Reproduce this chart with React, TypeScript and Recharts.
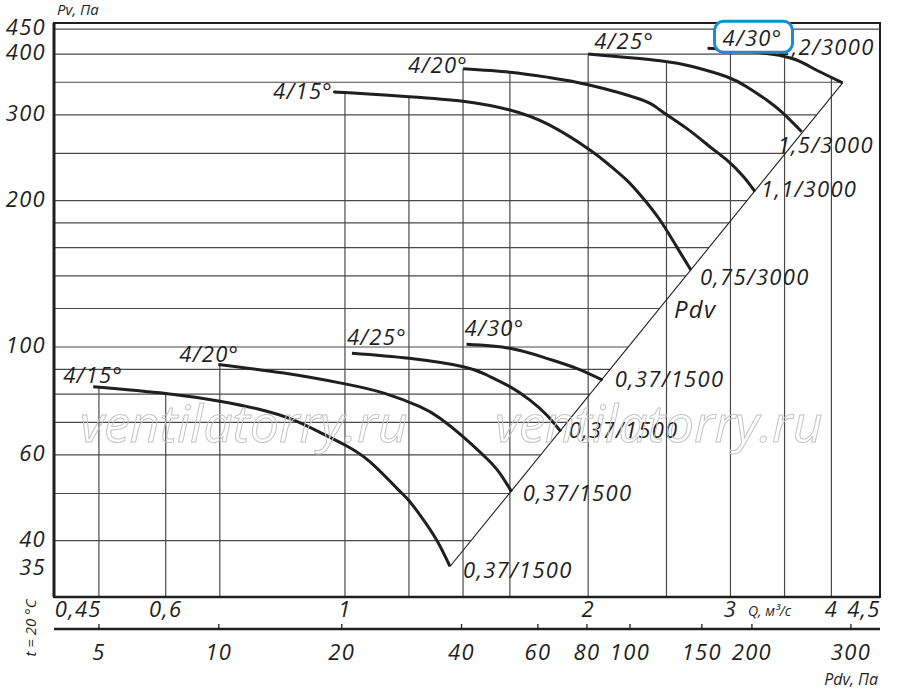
import React from "react";
import {
  LineChart,
  Line,
  XAxis,
  YAxis,
  ReferenceLine,
  ReferenceArea,
  ReferenceDot,
} from "recharts";

type Pt = { q: number; p: number };

const FONT = "'Open Sans', 'Noto Sans', sans-serif";
const INK = "#1f1f1f";
const GRID = "#4a4a4a";
const BIG = { fontFamily: FONT, fontStyle: "italic", fontSize: 22, letterSpacing: 1.3, fill: INK } as const;

// axis ranges: Q in m3/s, Pv in Pa (both log)
const qRange = [0.4364, 4.594];
const pRange = [30.64, 463.3];

const qTicks = [0.45, 0.6, 1, 2, 3, 4, 4.5];
const pTicks = [35, 40, 60, 100, 200, 300, 400, 450];

// dynamic pressure scale: labels and the Q they sit under
const pdvLabels = ["5", "10", "20", "40", "60", "80", "100", "150", "200", "300"];
const pdvAtQ = [0.496, 0.698, 0.991, 1.394, 1.733, 1.993, 2.253, 2.765, 3.189, 4.229];

const gridP = [40, 50, 60, 70, 80, 90, 100, 120, 140, 160, 180, 200, 250, 300, 350, 400, 450];
const gridQ = [0.496, 0.6, 0.7, 1, 1.2, 1.4, 1.6, 2, 2.5, 3, 3.5, 4];

// 3000 rpm
const hi15: Pt[] = [
  { q: 0.975, p: 334 }, { q: 1.0, p: 333.5 }, { q: 1.2, p: 327 }, { q: 1.4, p: 320 },
  { q: 1.6, p: 307 }, { q: 1.79, p: 286 }, { q: 2.01, p: 254 }, { q: 2.128, p: 236 },
  { q: 2.232, p: 220.3 }, { q: 2.34, p: 202 }, { q: 2.454, p: 182.4 }, { q: 2.573, p: 160.8 },
  { q: 2.68, p: 144 },
];
const hi20: Pt[] = [
  { q: 1.4, p: 373 }, { q: 1.6, p: 367 }, { q: 1.79, p: 358 }, { q: 2.0, p: 346 },
  { q: 2.32, p: 323 }, { q: 2.454, p: 307 }, { q: 2.648, p: 281.4 }, { q: 2.829, p: 258 },
  { q: 2.968, p: 242.3 }, { q: 3.112, p: 224 }, { q: 3.217, p: 208.5 },
];
const hi25: Pt[] = [
  { q: 2.0, p: 400 }, { q: 2.454, p: 387.5 }, { q: 2.698, p: 376.6 }, { q: 2.968, p: 359.3 },
  { q: 3.142, p: 342.7 }, { q: 3.326, p: 321.8 }, { q: 3.487, p: 302.1 }, { q: 3.675, p: 277 },
];
const hi30: Pt[] = [
  { q: 2.81, p: 411 }, { q: 3.0, p: 408 }, { q: 3.49, p: 396 }, { q: 3.76, p: 377 },
  { q: 4.13, p: 349 },
];

// 1500 rpm
const lo15: Pt[] = [
  { q: 0.488, p: 82.9 }, { q: 0.6, p: 80.3 }, { q: 0.7, p: 77.4 }, { q: 0.785, p: 74.4 },
  { q: 0.86, p: 71.0 }, { q: 0.931, p: 66.8 }, { q: 1.0, p: 62.9 }, { q: 1.074, p: 58.1 },
  { q: 1.159, p: 51.3 }, { q: 1.198, p: 48.5 }, { q: 1.238, p: 45.2 }, { q: 1.299, p: 40.1 },
  { q: 1.349, p: 35.4 },
];
const lo20: Pt[] = [
  { q: 0.697, p: 92.1 }, { q: 0.84, p: 88.4 }, { q: 1.0, p: 84.0 }, { q: 1.12, p: 80.3 },
  { q: 1.238, p: 75.4 }, { q: 1.311, p: 71.4 }, { q: 1.401, p: 65.4 }, { q: 1.498, p: 59.0 },
  { q: 1.555, p: 55.0 }, { q: 1.608, p: 50.4 },
];
const lo25: Pt[] = [
  { q: 1.02, p: 97.1 }, { q: 1.2, p: 94.8 }, { q: 1.401, p: 91.1 }, { q: 1.498, p: 87.6 },
  { q: 1.6, p: 82.9 }, { q: 1.694, p: 77.8 }, { q: 1.777, p: 72.5 }, { q: 1.85, p: 67.0 },
];
const lo30: Pt[] = [
  { q: 1.414, p: 101.3 }, { q: 1.6, p: 99.4 }, { q: 1.777, p: 94.8 }, { q: 1.935, p: 90.4 },
  { q: 2.084, p: 85.5 },
];

// Pdv line joining the curve ends
const pdvLine: Pt[] = [
  { q: 1.349, p: 35.4 },
  { q: 4.13, p: 349 },
];

const angles = ["4/15°", "4/20°", "4/25°", "4/30°"];
const motorsHi = ["0,75/3000", "1,1/3000", "1,5/3000", "2,2/3000"];
const motorLo = "0,37/1500";

type Off = { dx: number; dy: number; anchor: "start" | "middle" | "end"; boxed?: boolean };

const curves: { key: string; data: Pt[]; angle: string; motor: string; a: Off; m: Off }[] = [
  { key: "hi15", data: hi15, angle: angles[0], motor: motorsHi[0], a: { dx: -3, dy: 7, anchor: "end" }, m: { dx: 9, dy: 15, anchor: "start" } },
  { key: "hi20", data: hi20, angle: angles[1], motor: motorsHi[1], a: { dx: 5, dy: 4, anchor: "end" }, m: { dx: 6, dy: 5, anchor: "start" } },
  { key: "hi25", data: hi25, angle: angles[2], motor: motorsHi[2], a: { dx: 6, dy: -5, anchor: "start" }, m: { dx: -24, dy: 21, anchor: "start" } },
  { key: "hi30", data: hi30, angle: angles[3], motor: motorsHi[3], a: { dx: 15, dy: -2, anchor: "start", boxed: true }, m: { dx: 32, dy: -28, anchor: "end" } },
  { key: "lo15", data: lo15, angle: angles[0], motor: motorLo, a: { dx: 0, dy: -4, anchor: "middle" }, m: { dx: 13, dy: 12, anchor: "start" } },
  { key: "lo20", data: lo20, angle: angles[1], motor: motorLo, a: { dx: -9, dy: -2, anchor: "middle" }, m: { dx: 11, dy: 9, anchor: "start" } },
  { key: "lo25", data: lo25, angle: angles[2], motor: motorLo, a: { dx: -5, dy: -8, anchor: "start" }, m: { dx: 8, dy: 6, anchor: "start" } },
  { key: "lo30", data: lo30, angle: angles[3], motor: motorLo, a: { dx: -2, dy: -8, anchor: "start" }, m: { dx: 12, dy: 7, anchor: "start" } },
];

const allLines = [...curves.map((c) => c.data), pdvLine];
const lg = Math.log10;

// rightmost Q where a line reaches pressure p
function crossQ(line: Pt[], p: number): number | null {
  let best: number | null = null;
  for (let i = 0; i < line.length - 1; i++) {
    const a = line[i];
    const b = line[i + 1];
    const fa = lg(a.p) - lg(p);
    const fb = lg(b.p) - lg(p);
    if (fa * fb > 0 || fa === fb) continue;
    const t = fa / (fa - fb);
    const q = Math.pow(10, lg(a.q) + t * (lg(b.q) - lg(a.q)));
    if (best === null || q > best) best = q;
  }
  return best;
}

// pressure of a line at flow q
function pAt(line: Pt[], q: number): number | null {
  for (let i = 0; i < line.length - 1; i++) {
    const a = line[i];
    const b = line[i + 1];
    if (q >= a.q && q <= b.q) {
      const t = (lg(q) - lg(a.q)) / (lg(b.q) - lg(a.q));
      return Math.pow(10, lg(a.p) + t * (lg(b.p) - lg(a.p)));
    }
  }
  return null;
}

const hSegs = gridP.map((p) => {
  const ends = allLines.map((l) => crossQ(l, p)).filter((v): v is number => v !== null);
  const right = ends.length ? Math.max(...ends) : qRange[1];
  return { p, right };
});

const vSegs = gridQ.map((q) => {
  const tops = allLines.map((l) => pAt(l, q)).filter((v): v is number => v !== null);
  const top = tops.length ? Math.max(...tops) : pRange[1];
  return { q, top };
});

const comma = (v: number) => String(v).replace(".", ",");

const Tag = (props: any) => {
  const vb = props.viewBox || {};
  const x = (vb.x ?? 0) + (vb.width || 0) / 2;
  const y = (vb.y ?? 0) + (vb.height || 0) / 2;
  return (
    <g>
      {props.boxed && (
        <rect
          x={x + 7}
          y={y - 27}
          width={78}
          height={31}
          rx={9}
          ry={9}
          fill="#fff"
          stroke="#1b8ad8"
          strokeWidth={3}
        />
      )}
      <text x={x + props.dx} y={y + props.dy} textAnchor={props.anchor} {...BIG} fontSize={props.size || 22}>
        {props.text}
      </text>
    </g>
  );
};

const YTick = (props: any) => {
  const { x, y, payload } = props;
  return (
    <text x={x} y={y} dy={6} textAnchor="end" {...BIG}>
      {comma(payload.value)}
    </text>
  );
};

const QTick = (props: any) => {
  const { x, y, payload } = props;
  let anchor = "middle";
  let tx = x;
  if (payload.value === 0.45) {
    anchor = "start";
    tx = x - 10;
  }
  if (payload.value === 4.5) {
    anchor = "end";
    tx = x + 8;
  }
  return (
    <text x={tx} y={y + 20} textAnchor={anchor} {...BIG}>
      {comma(payload.value)}
    </text>
  );
};

const PdvTick = (props: any) => {
  const { x, y, index } = props;
  return (
    <g>
      <line x1={x} x2={x} y1={y - 5} y2={y} stroke={INK} strokeWidth={1.3} />
      <text x={x} y={y + 31} textAnchor="middle" {...BIG}>
        {pdvLabels[index]}
      </text>
    </g>
  );
};

const hidden = { r: 0, fill: "none", stroke: "none", ifOverflow: "visible" as const };

export default function App() {
  return (
    <div style={{ position: "absolute", left: 0, top: 0, width: 900, height: 689, background: "#fff" }}>
      <LineChart width={900} height={689} margin={{ top: 23, right: 20, bottom: 20, left: 0 }}>
        <XAxis
          xAxisId="a_q"
          dataKey="q"
          type="number"
          scale="log"
          domain={qRange}
          allowDataOverflow
          ticks={qTicks}
          interval={0}
          height={32}
          tickSize={0}
          tickMargin={0}
          tickLine={false}
          axisLine={{ stroke: INK, strokeWidth: 2.5 }}
          tick={<QTick />}
        />
        <XAxis
          xAxisId="b_pdv"
          dataKey="q"
          type="number"
          scale="log"
          domain={qRange}
          allowDataOverflow
          ticks={pdvAtQ}
          interval={0}
          height={40}
          tickSize={0}
          tickMargin={0}
          tickLine={false}
          axisLine={{ stroke: INK, strokeWidth: 2.5 }}
          tick={<PdvTick />}
        />
        <YAxis
          dataKey="p"
          type="number"
          scale="log"
          domain={pRange}
          allowDataOverflow
          ticks={pTicks}
          interval={0}
          width={54}
          tickLine={false}
          axisLine={{ stroke: INK, strokeWidth: 3 }}
          tick={<YTick />}
        />

        <ReferenceArea
          xAxisId="a_q"
          x1={qRange[0]}
          x2={qRange[1]}
          y1={pRange[0]}
          y2={pRange[1]}
          fill="none"
          stroke={INK}
          strokeWidth={2}
          ifOverflow="visible"
        />

        {hSegs.map((s) => (
          <ReferenceLine
            key={`h-${s.p}`}
            xAxisId="a_q"
            segment={[
              { x: qRange[0], y: s.p },
              { x: s.right, y: s.p },
            ]}
            stroke={GRID}
            strokeWidth={1.2}
            ifOverflow="visible"
          />
        ))}
        {vSegs.map((s) => (
          <ReferenceLine
            key={`v-${s.q}`}
            xAxisId="a_q"
            segment={[
              { x: s.q, y: pRange[0] },
              { x: s.q, y: s.top },
            ]}
            stroke={GRID}
            strokeWidth={1.2}
            ifOverflow="visible"
          />
        ))}

        <Line
          xAxisId="a_q"
          data={pdvLine}
          dataKey="p"
          type="linear"
          stroke={INK}
          strokeWidth={1.1}
          dot={false}
          isAnimationActive={false}
        />
        {curves.map((c) => (
          <Line
            key={c.key}
            xAxisId="a_q"
            data={c.data}
            dataKey="p"
            type="natural"
            stroke={INK}
            strokeWidth={3}
            dot={false}
            isAnimationActive={false}
          />
        ))}

        {curves.map((c) => {
          const e = c.data[c.data.length - 1];
          return (
            <ReferenceDot
              key={`${c.key}-m`}
              xAxisId="a_q"
              x={e.q}
              y={e.p}
              {...hidden}
              label={<Tag text={c.motor} {...c.m} />}
            />
          );
        })}
        {curves.map((c) => {
          const s = c.data[0];
          return (
            <ReferenceDot
              key={`${c.key}-a`}
              xAxisId="a_q"
              x={s.q}
              y={s.p}
              {...hidden}
              label={<Tag text={c.angle} {...c.a} />}
            />
          );
        })}
        <ReferenceDot
          xAxisId="a_q"
          x={2.554}
          y={114.7}
          {...hidden}
          label={<Tag text="Pdv" dx={0} dy={0} anchor="start" size={24} />}
        />
      </LineChart>

      <svg
        width={900}
        height={689}
        style={{ position: "absolute", left: 0, top: 0, pointerEvents: "none" }}
        fontFamily={FONT}
        fontStyle="italic"
      >
        <text x={57} y={15} fontSize={15} fill={INK}>Pv, Па</text>
        <text x={748} y={616} fontSize={14} fill={INK}>Q, м³/с</text>
        <text x={878} y={685} fontSize={16} fill={INK} textAnchor="end">Pdv, Па</text>
        <text transform="translate(36,628) rotate(-90)" fontSize={15} fill={INK} textAnchor="middle">
          t = 20 °C
        </text>
        <text x={80} y={442} fontSize={52} fill="none" stroke="#c4c4c4" strokeWidth={1}>ventilatorry.ru</text>
        <text x={495} y={442} fontSize={52} fill="none" stroke="#c4c4c4" strokeWidth={1}>ventilatorry.ru</text>
      </svg>
    </div>
  );
}
